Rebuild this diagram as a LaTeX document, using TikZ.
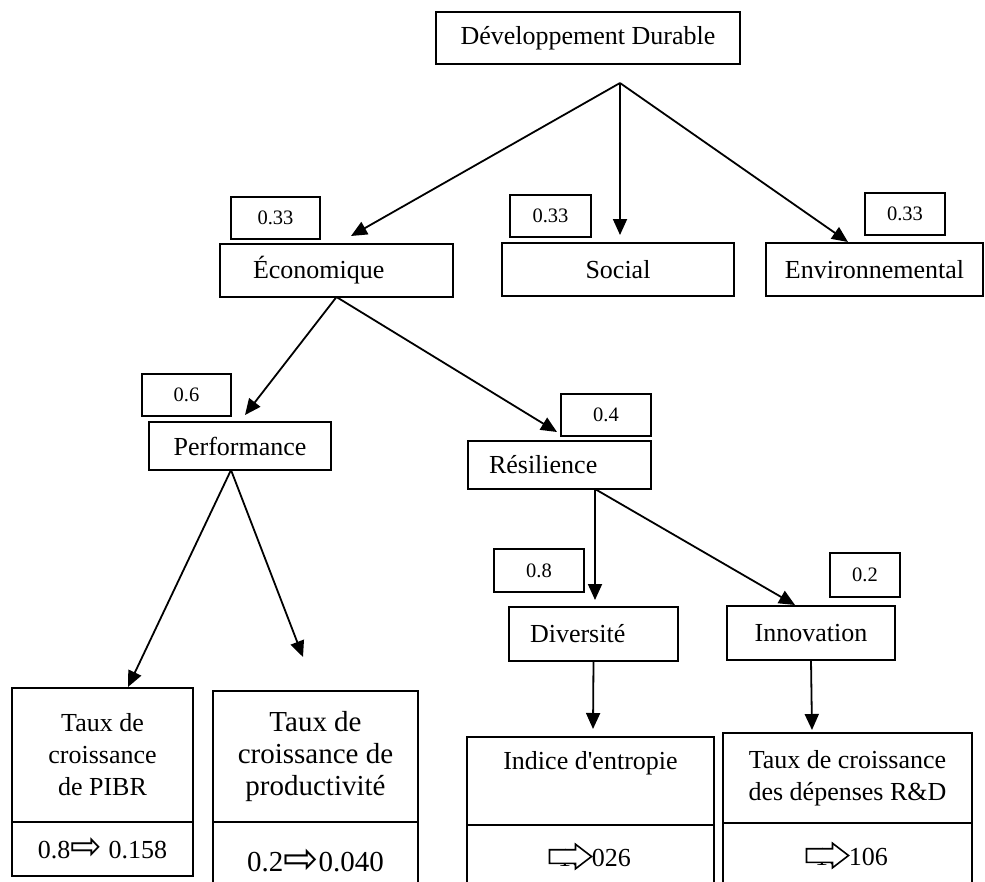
\documentclass[tikz,border=0pt]{standalone}
\usepackage{fontspec}
\setmainfont{Liberation Serif}
\newfontfamily\arrowfont{DejaVu Sans}
\usetikzlibrary{arrows.meta,shapes.arrows}

\newcommand{\thickarrow}{{\arrowfont\raisebox{-1.5pt}{\scalebox{1.45}[1.5]{⇨}}}}

\begin{document}
\begin{tikzpicture}[x=1pt, y=-1pt, inner sep=0pt, outer sep=0pt,
  every node/.style={font=\fontsize{26}{32}\selectfont},
  box/.style={draw, line width=1.8pt, anchor=north west, align=center},
  leftbox/.style={box, align=left, text width=#1},
  weight/.style={box, font=\fontsize{20.5}{24}\selectfont},
  big/.style={font=\fontsize{29}{32}\selectfont},
  hollow/.style={single arrow, draw, fill=white, line width=1.6pt, inner xsep=0pt, inner ysep=6pt,
    minimum height=42pt, single arrow head extend=5.5pt, single arrow tip angle=75},
  link/.style={line width=1.8pt, -{Triangle[length=16pt,width=14pt]}}]
  \useasboundingbox (0,0) rectangle (985,881);
  \fill[white] (0,0) rectangle (985,881);
  \clip (0,0) rectangle (985,881);
  % 
  \node[box, minimum width=304pt, minimum height=52pt] (dev_durable) at (436,12) {Développement Durable};

  \node[weight, minimum width=89pt, minimum height=42pt] (w_eco) at (231,197) {0.33};
  \node[weight, minimum width=81pt, minimum height=42pt] (w_soc) at (510,195) {0.33};
  \node[weight, minimum width=80pt, minimum height=42pt] (w_env) at (865,193) {0.33};
  \node[leftbox=233pt, minimum height=53pt] (economique) at (220,244) {\hspace*{33pt}Économique};
  \node[box, minimum width=232pt, minimum height=53pt] (social) at (502,243) {Social};
  \node[box, minimum width=217pt, minimum height=53pt] (environnemental) at (766,243) {Environnemental};

  \node[weight, minimum width=89pt, minimum height=42pt] (w_perf) at (142,374) {0.6};
  \node[weight, minimum width=90pt, minimum height=42pt] (w_res) at (561,394) {0.4};
  \node[box, minimum width=182pt, minimum height=48pt] (performance) at (149,422) {Performance};
  \node[leftbox=183pt, minimum height=48pt] (resilience) at (468,441) {\hspace*{21pt}Résilience};

  \node[weight, minimum width=90pt, minimum height=43pt] (w_div) at (494,549) {0.8};
  \node[weight, minimum width=70pt, minimum height=44pt] (w_inn) at (830,553) {0.2};
  \node[leftbox=169pt, minimum height=54pt] (diversite) at (509,607) {\hspace*{21pt}Diversité};
  \node[box, minimum width=168pt, minimum height=54pt] (innovation) at (727,606) {Innovation};

  % indicateurs
  \node[box, minimum width=181pt, minimum height=134pt] (pibr) at (12,688) {Taux de\\croissance\\de PIBR};
  \node[box, minimum width=181pt, minimum height=54pt] (pibr_val) at (12,822) {0.8\thickarrow{} 0.158};
  \node[box, big, minimum width=205pt, minimum height=131pt] (productivite) at (213,691) {Taux de\\croissance de\\productivité};
  \node[box, big, minimum width=205pt, minimum height=78pt] (productivite_val) at (213,822) {0.2\thickarrow0.040};
  \node[box, minimum width=247pt, minimum height=88pt] (entropie) at (467,737) {Indice d\textquotesingle entropie\\\strut};
  \node[box, minimum width=247pt, minimum height=65pt] (entropie_val) at (467,825) {\rlap{\kern8pt 10}\hspace{42pt}026};
  \node[box, minimum width=249pt, minimum height=90pt] (depenses) at (723,733) {Taux de croissance\\des dépenses R\&D};
  \node[box, minimum width=249pt, minimum height=67pt] (depenses_val) at (723,823) {\rlap{\kern8pt 10}\hspace{42pt}106};
  \node[hollow, anchor=west] (entropie_arrow) at ([xshift=-41pt, yshift=1pt]entropie_val.center) {};
  \node[hollow, anchor=west] (depenses_arrow) at ([xshift=-41pt, yshift=1pt]depenses_val.center) {};

  \coordinate (dev_fork) at (620,83);
  \coordinate (eco_tip) at (351,236);
  \coordinate (soc_tip) at (620,235);
  \coordinate (env_tip) at (848,242);
  \coordinate (perf_tip) at (245,415);
  \coordinate (res_tip) at (557,432);
  \coordinate (res_fork) at (595,489);
  \coordinate (div_tip) at (595,600);
  \coordinate (inn_tip) at (795,605);
  \coordinate (perf_fork) at (231,470);
  \coordinate (pibr_tip) at (128,687);
  \coordinate (prod_tip) at (303,657);
  \coordinate (entr_tip) at (593,729);
  \coordinate (dep_tip) at (812,730);

  \draw[link] (dev_fork) -- (eco_tip);
  \draw[link] (dev_fork) -- (soc_tip);
  \draw[link] (dev_fork) -- (env_tip);
  \draw[link] (economique.south) -- (perf_tip);
  \draw[link] (economique.south) -- (res_tip);
  \draw[link] (res_fork) -- (div_tip);
  \draw[link] (res_fork) -- (inn_tip);
  \draw[link] (perf_fork) -- (pibr_tip);
  \draw[link] (perf_fork) -- (prod_tip);
  \draw[link] (diversite.south) -- (entr_tip);
  \draw[link] (innovation.south) -- (dep_tip);
\end{tikzpicture}
\end{document}
